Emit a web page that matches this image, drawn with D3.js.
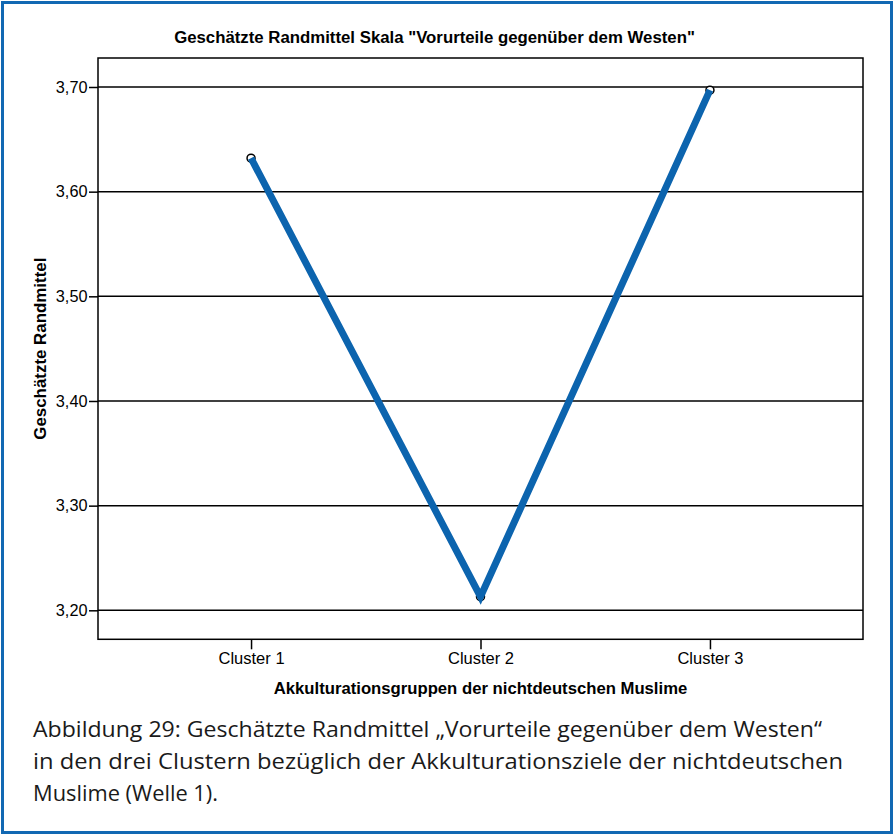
<!DOCTYPE html>
<html>
<head>
<meta charset="utf-8">
<script src="https://cdn.jsdelivr.net/npm/d3@7"></script>
<style>
  html, body { margin: 0; padding: 0; background: #fff; }
  svg { display: block; }
</style>
</head>
<body>
<div id="chart"></div>
<script>
  var categories = ['Cluster 1', 'Cluster 2', 'Cluster 3'];
  var values = [3.632, 3.213, 3.697];
  var yTicks = [3.2, 3.3, 3.4, 3.5, 3.6, 3.7];
  var yDomain = [3.1723, 3.7277];

  var title = 'Geschätzte Randmittel Skala "Vorurteile gegenüber dem Westen"';
  var yTitle = 'Geschätzte Randmittel';
  var xTitle = 'Akkulturationsgruppen der nichtdeutschen Muslime';
  var caption = [
    'Abbildung 29: Geschätzte Randmittel „Vorurteile gegenüber dem Westen“',
    'in den drei Clustern bezüglich der Akkulturationsziele der nichtdeutschen',
    'Muslime (Welle 1).'
  ];
  var captionWidths = [789, 810, 185];

  var W = 894, H = 835;
  var plot = { left: 98, top: 58, right: 863, bottom: 639.3 };
  var font = '"Liberation Sans", Arial, sans-serif';
  var blue = '#0c64ae';

  var svg = d3.select('#chart').append('svg')
    .attr('width', W)
    .attr('height', H);

  svg.append('rect')
    .attr('x', 2.5).attr('y', 2.5)
    .attr('width', W - 5).attr('height', H - 5)
    .attr('fill', '#fff')
    .attr('stroke', '#1168b3')
    .attr('stroke-width', 3);

  var x = d3.scalePoint()
    .domain(categories)
    .range([plot.left, plot.right])
    .padding(0.667);

  var y = d3.scaleLinear()
    .domain(yDomain)
    .range([plot.bottom, plot.top]);

  // gridlines
  svg.append('g')
    .selectAll('line')
    .data(yTicks)
    .enter()
    .append('line')
    .attr('x1', plot.left)
    .attr('x2', plot.right)
    .attr('y1', function (d) { return y(d); })
    .attr('y2', function (d) { return y(d); })
    .attr('stroke', '#000')
    .attr('stroke-width', 1.5);

  // frame
  svg.append('rect')
    .attr('x', plot.left).attr('y', plot.top)
    .attr('width', plot.right - plot.left)
    .attr('height', plot.bottom - plot.top)
    .attr('fill', 'none')
    .attr('stroke', '#000')
    .attr('stroke-width', 1.5);

  var fmt = function (d) { return d3.format('.2f')(d).replace('.', ','); };

  var yAxis = svg.append('g')
    .attr('transform', 'translate(' + plot.left + ',0)')
    .call(d3.axisLeft(y).tickValues(yTicks).tickFormat(fmt).tickSize(9).tickPadding(1.5));
  yAxis.select('.domain').remove();
  yAxis.selectAll('line').attr('stroke', '#000').attr('stroke-width', 1.5);
  yAxis.selectAll('text')
    .style('font-family', font)
    .style('font-size', '16.3px')
    .attr('fill', '#000');

  var xAxis = svg.append('g')
    .attr('transform', 'translate(0,' + plot.bottom + ')')
    .call(d3.axisBottom(x).tickSize(10).tickPadding(3));
  xAxis.select('.domain').remove();
  xAxis.selectAll('line').attr('stroke', '#000').attr('stroke-width', 1.5);
  xAxis.selectAll('text')
    .style('font-family', font)
    .style('font-size', '16.5px')
    .attr('fill', '#000');

  var pts = categories.map(function (c, i) { return [c, values[i]]; });

  svg.append('g')
    .selectAll('circle')
    .data(pts)
    .enter()
    .append('circle')
    .attr('cx', function (d) { return x(d[0]); })
    .attr('cy', function (d) { return y(d[1]); })
    .attr('r', 4)
    .attr('fill', '#fff')
    .attr('stroke', '#000')
    .attr('stroke-width', 1.5);

  svg.append('path')
    .datum(pts)
    .attr('fill', 'none')
    .attr('stroke', blue)
    .attr('stroke-width', 7)
    .attr('stroke-linejoin', 'miter')
    .attr('d', d3.line()
      .x(function (d) { return x(d[0]); })
      .y(function (d) { return y(d[1]); }));

  svg.append('text')
    .attr('x', 434.5).attr('y', 43)
    .attr('text-anchor', 'middle')
    .style('font-family', font)
    .style('font-size', '16.8px')
    .style('font-weight', 'bold')
    .text(title);

  svg.append('text')
    .attr('transform', 'translate(46,' + ((plot.top + plot.bottom) / 2) + ') rotate(-90)')
    .attr('text-anchor', 'middle')
    .style('font-family', font)
    .style('font-size', '16.9px')
    .style('font-weight', 'bold')
    .text(yTitle);

  svg.append('text')
    .attr('x', (plot.left + plot.right) / 2).attr('y', 694)
    .attr('text-anchor', 'middle')
    .style('font-family', font)
    .style('font-size', '16.7px')
    .style('font-weight', 'bold')
    .text(xTitle);

  svg.append('g')
    .selectAll('text')
    .data(caption)
    .enter()
    .append('text')
    .attr('x', 33)
    .attr('y', function (d, i) { return 737 + i * 32; })
    .attr('textLength', function (d, i) { return captionWidths[i]; })
    .attr('lengthAdjust', 'spacingAndGlyphs')
    .style('font-family', '"Open Sans", "Noto Sans", sans-serif')
    .style('font-size', '22px')
    .attr('fill', '#1a1a1a')
    .text(function (d) { return d; });
</script>
</body>
</html>
